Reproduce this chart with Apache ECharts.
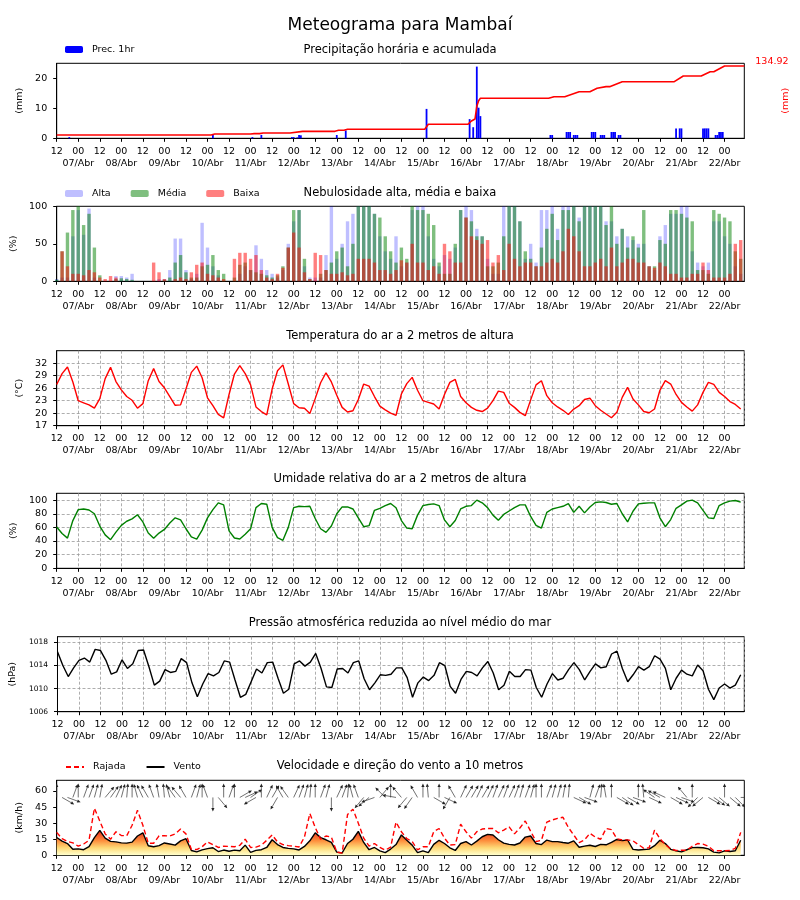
<!DOCTYPE html>
<html><head><meta charset="utf-8">
<script src="https://cdn.jsdelivr.net/npm/echarts@6/dist/echarts.min.js"></script>
<style>html,body{margin:0;padding:0;background:#fff}#c{width:800px;height:900px}</style>
</head><body><div id="c"></div>
<script>
// ---------------- DATA ----------------
// time axis: hours since 06/Abr 12:00 ; series sampled every STEP hours
const STEP = 3;
const X_MAX = 383;
const dayLabels = ['07/Abr','08/Abr','09/Abr','10/Abr','11/Abr','12/Abr','13/Abr','14/Abr','15/Abr','16/Abr','17/Abr','18/Abr','19/Abr','20/Abr','21/Abr','22/Abr'];

// hourly precipitation (only non-zero hours)
const precipHours  = [7,87,109,114,131,132,134,135,136,156,161,206,230,232,234,235,236,275,276,284,285,286,288,289,290,298,299,300,303,304,305,309,310,311,313,314,345,347,348,360,361,362,363,367,368,369,370,371];
const precipValues = [0.4,1.2,0.4,1.1,0.4,0.4,0.3,1.1,1.0,1.1,2.6,9.8,6.4,3.7,23.9,10.2,7.4,1.1,1.1,2.1,2.1,2.1,1.1,1.1,1.1,2.1,2.1,2.1,1.1,1.1,1.1,2.1,2.1,2.1,1.1,1.1,3.3,3.3,3.3,3.3,3.3,3.3,3.3,1.1,1.1,2.1,2.1,2.1];
// accumulated precipitation (right axis)
const accHours  = [0,86,88,108,110,113,115,130,137,155,157,160,162,205,207,229,231,232,233,234,235,236,274,277,283,291,297,301,302,306,308,315,344,349,359,364,366,372,383];
const accValues = [6.2,6.2,8.0,8.0,8.7,8.7,9.9,9.9,13.0,13.0,14.9,14.9,16.8,16.8,26.1,26.1,32.3,32.3,36.0,59.9,70.1,74.7,74.7,77.7,77.7,87.0,87.0,93.3,93.3,96.4,96.4,105.7,105.7,116.3,116.3,124.3,124.3,134.92,134.92];

// cloud cover (%) every 3 h
const cloudHigh = [3,5,5,60,95,62,97,5,0,0,0,7,7,5,10,0,0,0,0,3,3,15,57,57,15,3,10,78,45,20,8,0,0,0,10,20,15,48,30,15,10,5,15,50,80,95,20,5,5,5,35,100,30,50,80,90,100,100,100,90,60,40,30,60,20,25,95,100,100,60,30,20,35,30,45,95,100,95,70,60,30,10,10,100,100,100,80,30,50,25,95,95,100,70,100,100,100,85,100,100,100,100,80,80,60,70,60,55,50,50,20,15,60,75,90,90,100,100,40,25,20,25,80,80,60,50,20,10];
const cloudMid  = [2,40,65,95,100,75,90,45,8,0,0,3,4,3,2,0,0,0,0,0,2,5,25,35,12,5,5,20,22,35,15,10,0,5,22,25,15,12,10,8,5,8,20,45,95,95,30,3,0,10,15,25,40,45,20,50,100,100,100,90,85,60,40,25,45,30,100,95,95,90,75,25,10,10,50,95,85,80,60,60,20,20,25,60,100,100,80,40,30,20,45,70,90,55,95,95,100,80,100,100,100,100,75,100,50,70,45,60,45,95,20,20,55,50,95,95,90,85,80,15,15,10,95,90,85,80,40,30];
const cloudLow  = [0,40,20,10,10,8,15,12,5,3,7,5,0,0,0,0,0,0,25,12,3,0,3,5,3,12,22,25,10,8,5,3,0,30,38,38,30,35,15,5,3,10,18,45,65,45,12,3,38,35,15,10,10,12,8,10,30,30,30,25,15,15,10,15,28,25,50,25,25,15,20,10,50,40,25,25,85,60,55,50,55,25,35,15,50,30,20,25,25,20,20,25,30,25,40,70,60,40,20,20,25,30,20,45,20,25,30,30,25,25,20,18,25,20,10,10,5,5,10,10,25,15,5,5,5,10,50,55];

// 2 m temperature (°C) every 3 h
const temperature = [26.9,29.5,31.1,27.5,23.0,22.5,22.0,21.2, 23.5,28.3,31.0,27.6,25.6,24.0,23.1,21.2, 22.3,27.8,30.7,27.6,26.1,24.0,21.9,22.0, 25.8,29.8,31.3,28.5,23.7,21.8,19.7,18.9, 24.5,29.4,31.4,29.5,26.8,21.5,20.4,19.6, 25.8,30.2,31.6,27.0,22.3,21.3,21.2,19.9, 23.5,27.3,29.7,27.5,24.3,21.4,20.3,20.6, 23.3,27.0,26.5,24.0,21.7,20.8,20.0,19.5, 24.6,27.1,28.6,25.5,23.0,22.6,22.2,21.0, 24.5,27.4,28.1,24.0,22.5,21.4,20.7,20.4, 21.2,23.0,25.3,25.0,22.4,21.4,20.2,19.4, 23.2,26.8,27.8,24.2,22.5,21.5,20.7,19.7, 21.0,21.8,23.3,23.6,21.8,20.7,19.8,18.9, 20.2,23.8,26.2,23.4,22.0,20.4,20.1,21.0, 25.5,27.8,27.0,24.5,22.6,21.5,20.5,22.0, 25.0,27.4,26.9,25.0,24.0,22.8,22.1,21.0];

// 2 m relative humidity (%) every 3 h
const humidity = [60.6,51,44.3,70,86,87,85.5,80, 62,49,42,53,63,69,72.5,78.5, 68,51.7,44,51.7,57,66.5,74,71, 58,46,42.9,56,74,86,96,93, 55,44.5,43,50,58,89,95,94, 60,45,41,60,89,91,90.5,91, 73,58,52.7,62,80,90,90,87, 74,61,62.5,85,88,92,95,88.7, 70,59,58,78,92,93.6,94.5,92, 71,61,70,87,91,92,100,96, 89,78,70.5,79,84,89,93,93, 76,63,59,82,87,89,91,95, 82,91,81.3,90,96.5,97.5,96.5,94, 95,80,68,83.7,94.5,95.5,96,96, 74,61,71.5,88,93,98.5,100,96, 85,74,73,92,96,98.5,99.5,97];

// mean sea level pressure (hPa) every 3 h
const pressure = [1016.4,1014.0,1012.1,1013.6,1014.9,1015.3,1014.6,1016.8, 1016.6,1014.9,1012.5,1012.9,1015.0,1013.5,1014.3,1016.6, 1016.7,1013.8,1010.6,1011.3,1013.3,1012.8,1013.0,1015.2, 1014.5,1011.0,1008.6,1010.8,1012.6,1012.2,1012.8,1014.8, 1014.6,1011.5,1008.5,1009.0,1011.2,1013.4,1012.7,1014.5, 1014.6,1011.8,1009.2,1009.9,1014.3,1014.8,1013.9,1014.6, 1016.1,1013.5,1010.3,1010.2,1013.4,1013.5,1012.7,1014.5, 1014.8,1011.7,1009.8,1011.0,1012.4,1012.3,1012.5,1013.6, 1013.6,1011.9,1008.5,1011.0,1012.0,1011.4,1012.3,1014.5, 1014.0,1010.4,1009.2,1011.6,1013.0,1012.8,1012.2,1013.6, 1014.7,1012.7,1009.8,1010.6,1013.0,1012.1,1012.1,1013.3, 1013.2,1010.2,1008.5,1010.8,1012.6,1011.5,1011.8,1013.3, 1014.5,1013.3,1011.5,1013.0,1014.3,1013.6,1013.8,1016.0, 1016.5,1013.5,1011.2,1012.4,1013.8,1013.2,1013.8,1015.7, 1015.1,1013.5,1009.8,1011.8,1013.2,1012.5,1012.2,1014.1, 1013.1,1009.9,1008.1,1010.1,1010.8,1010.1,1010.6,1012.4];

// 10 m wind speed and gust (km/h) every 3 h
const windSpeed = [16.6,13.3,11.0,5.6,6.0,5.2,8.0,16.5, 23.2,16,13,12.5,11.6,11.4,12.3,18, 21,8.9,8.0,9.0,11.5,10.5,9.5,13.5, 15.5,4.5,3.2,5.0,6.2,7.0,3.5,4.9, 3.8,4.8,4.2,9.5,2.8,4.6,5.2,7.3, 14.5,10,7.3,6.5,6.0,5.0,8.3,13.5, 21,16.5,14.5,12,3,2.2,11,15, 22.3,12,5.2,7.3,4.2,2.5,5.8,10, 19,14,9.5,2.5,4.2,2.5,10.2,14, 11,7,4.5,11,12.8,9.6,13.2,17.3, 19.5,19.0,14.5,11.4,10.2,9.6,11.5,17, 18,11,10,14.2,12.8,12.8,12.0,11.3, 13.5,7.5,8.6,9.4,8.2,10.2,9.8,12, 14.8,13.7,14.3,5.5,5.0,5.4,5.8,9, 14,11,5.6,4.2,3.2,5.2,7.2,7.3, 7.0,6.0,3.0,2.3,4.2,3.5,4.2,14];
const windGust = [21.4,15.5,13,11.6,8.5,10.5,14,44, 32,20,15,22,18.5,18.2,28,42, 28,11.2,11.2,18.2,18.2,18.0,20,24.5, 20,5.5,5.4,8.0,12.5,10,7.3,8.5, 8.3,8.0,9.3,15,7.3,7.6,9.5,14, 19,12.5,10,9,8.5,7.8,17,39, 26,15,18,17,3.0,2.2,38,43, 30,16,8.6,11,7.3,4.8,7.6,31, 22,15.5,13,5,8,8,22,25, 16,9.6,10,29,22,16,22,24.5, 25,25,21,23.5,26.5,20,25.5,32, 22.5,12.8,14,31,33,34.5,35.5,26, 19,11.8,14.4,20.5,17,15,25,24, 15.5,14.4,14.4,13.5,10,6.6,7,23.5, 15.5,10,6.0,4.5,4.7,4.8,8.5,11, 10.4,8.4,4.3,4.2,4.2,4.5,6.5,21.4];
// wind direction (degrees, meteorological "from") every 3 h
const windDir = [180,300,290,200,180,200,200,195, 190,220,215,205,195,185,180,165, 155,150,160,170,175,165,145,140, 150,200,195,180,160,0,320,180, 200,180,240,245,235,60,180,205, 210,30,150,145,205,200,195,185, 180,200,195,0,205,200,185,165, 160,40,50,70,220,135,180,100, 140,40,35,150,180,175,300,180, 295,30,150,205,210,210,205,210, 205,200,205,200,205,200,195,200, 195,180,180,200,195,195,190,185, 295,300,290,195,200,185,170,180, 300,305,300,290,180,175,295,125, 120,115,300,295,290,140,180,45, 50,300,305,310,180,310,315,270];

// ---------------- CHART ----------------
const FONT = 'DejaVu Sans';
const tops = [63.3, 206.3, 350.7, 493.3, 636.7, 780.3];
const GL = 56.7, GW = 687.6, GH = 75;
const withGrid = [false, false, true, true, true, false];
const series3h = arr => arr.map((v, i) => [i * STEP, v]);
const midnights = dayLabels.map((d, i) => 12 + 24 * i);

function hourFmt(v) {
  const r = ((v % 24) + 24) % 24;
  if (r === 0) return '12';
  if (r === 12) return '00';
  return '';
}
const dash = {color: '#999', type: [3, 2], width: 0.8};
const tickFont = {fontSize: 9.5, color: '#000', fontFamily: FONT};

// main time axes (hour labels, ticks, grid lines)
const xAxes = tops.map((t, i) => ({
  type: 'value', gridIndex: i, min: 0, max: X_MAX, interval: 12,
  axisLine: {show: true, onZero: false, lineStyle: {color: '#000', width: 1}},
  axisTick: {show: true, length: 3.5, lineStyle: {color: '#000'}},
  axisLabel: Object.assign({formatter: hourFmt, margin: 8, showMinLabel: true, showMaxLabel: false}, tickFont),
  splitLine: {show: withGrid[i], lineStyle: dash}
}));
// second row: day labels under the 00 ticks
tops.forEach((t, i) => xAxes.push({
  type: 'value', gridIndex: i, min: 0, max: X_MAX, position: 'bottom',
  axisLine: {show: false}, axisTick: {show: false}, splitLine: {show: false},
  axisLabel: Object.assign({customValues: midnights, formatter: v => dayLabels[(v - 12) / 24], margin: 20,
                            showMinLabel: true, showMaxLabel: true}, tickFont)
}));

function yAx(grid, min, max, ticks, name, opts) {
  opts = opts || {};
  return {
    type: 'value', gridIndex: grid, min: min, max: max,
    name: name, nameLocation: 'middle', nameGap: opts.nameGap || 27,
    nameTextStyle: {fontSize: 9.5, color: '#000', fontFamily: FONT},
    axisLine: {show: true, lineStyle: {color: '#000'}},
    axisTick: {show: true, length: 3.5, customValues: ticks, lineStyle: {color: '#000'}},
    axisLabel: Object.assign({customValues: ticks, formatter: v => String(v), margin: 9.5}, tickFont, {fontSize: opts.fs || 9.5}),
    splitLine: {show: !!opts.grid, lineStyle: dash}
  };
}

const yAxes = [
  yAx(0, 0, 25, [0, 10, 20], '(mm)', {nameGap: 28}),
  {type: 'value', gridIndex: 0, position: 'right', min: 0, max: 140,
   name: '(mm)', nameLocation: 'middle', nameGap: 36,
   nameTextStyle: {fontSize: 9.5, color: '#ff0000', fontFamily: FONT},
   axisLine: {show: false}, axisTick: {show: false}, axisLabel: {show: false}, splitLine: {show: false}},
  yAx(1, 0, 100, [0, 50, 100], '(%)', {nameGap: 34}),
  yAx(2, 17, 35, [17, 20, 23, 26, 29, 32], '(°C)', {nameGap: 28, grid: true}),
  yAx(3, 0, 110, [0, 20, 40, 60, 80, 100], '(%)', {nameGap: 34, grid: true}),
  yAx(4, 1006, 1019, [1006, 1010, 1014, 1018], '(hPa)', {nameGap: 37, grid: true, fs: 7.5}),
  yAx(5, 0, 70, [0, 15, 30, 45, 60], '(km/h)', {nameGap: 28})
];

const windFill = new echarts.graphic.LinearGradient(0, 855, 0, 826, [
  {offset: 0, color: '#ffffcc'}, {offset: 0.25, color: '#fed976'},
  {offset: 0.5, color: '#fd8d3c'}, {offset: 0.78, color: '#f03b20'}, {offset: 1, color: '#bd0026'}
], true);

const ARROW_BASE = 54;
const series = [
  {name: 'Prec. 1hr', type: 'bar', xAxisIndex: 0, yAxisIndex: 0, barWidth: 1.8,
   itemStyle: {color: '#0000ff'}, data: precipHours.map((h, i) => [h, precipValues[i]])},
  {name: 'Acumulada', type: 'line', xAxisIndex: 0, yAxisIndex: 1, symbol: 'none',
   lineStyle: {color: '#ff0000', width: 1.6}, itemStyle: {color: '#ff0000'},
   data: accHours.map((h, i) => [h, accValues[i]]),
   endLabel: {show: true, formatter: () => accValues[accValues.length - 1].toFixed(2), color: '#ff0000', fontSize: 9.5, fontFamily: FONT, distance: 11, offset: [0, -4]}},
  {name: 'Alta', type: 'bar', xAxisIndex: 1, yAxisIndex: 2, barWidth: 3.4, barGap: '-100%',
   itemStyle: {color: 'rgba(0,0,255,0.25)'}, data: series3h(cloudHigh)},
  {name: 'Média', type: 'bar', xAxisIndex: 1, yAxisIndex: 2, barWidth: 3.4, barGap: '-100%',
   itemStyle: {color: 'rgba(0,128,0,0.5)'}, data: series3h(cloudMid)},
  {name: 'Baixa', type: 'bar', xAxisIndex: 1, yAxisIndex: 2, barWidth: 3.4, barGap: '-100%',
   itemStyle: {color: 'rgba(255,0,0,0.5)'}, data: series3h(cloudLow)},
  {name: 'Temperatura', type: 'line', xAxisIndex: 2, yAxisIndex: 3, symbol: 'none',
   lineStyle: {color: '#ff0000', width: 1.4}, data: series3h(temperature)},
  {name: 'Umidade', type: 'line', xAxisIndex: 3, yAxisIndex: 4, symbol: 'none',
   lineStyle: {color: '#008000', width: 1.4}, data: series3h(humidity)},
  {name: 'Pressão', type: 'line', xAxisIndex: 4, yAxisIndex: 5, symbol: 'none',
   lineStyle: {color: '#000', width: 1.4}, data: series3h(pressure)},
  {name: 'Vento', type: 'line', xAxisIndex: 5, yAxisIndex: 6, symbol: 'none', showSymbol: false, z: 3,
   lineStyle: {color: '#000', width: 1.4}, itemStyle: {color: '#000'},
   areaStyle: {color: windFill, opacity: 1}, data: series3h(windSpeed)},
  {name: 'Rajada', type: 'line', xAxisIndex: 5, yAxisIndex: 6, symbol: 'none', showSymbol: false, z: 4,
   lineStyle: {color: '#ff0000', width: 1.4, type: [5, 3]}, itemStyle: {color: '#ff0000'},
   data: series3h(windGust)},
  {name: 'Direção', type: 'custom', xAxisIndex: 5, yAxisIndex: 6, z: 5, clip: true,
   data: series3h(windDir),
   renderItem: function (params, api) {
     const p = api.coord([api.value(0), ARROW_BASE]);
     const a = (api.value(1) + 180) * Math.PI / 180;
     const ux = Math.sin(a), uy = -Math.cos(a);
     const L = 14, hl = 3.5, hw = 1.6;
     const ex = p[0] + ux * L, ey = p[1] + uy * L;
     const bx = ex - ux * hl, by = ey - uy * hl;
     const px = -uy, py = ux;
     return {type: 'group', children: [
       {type: 'line', shape: {x1: p[0], y1: p[1], x2: bx, y2: by}, style: {stroke: '#333', lineWidth: 0.7}},
       {type: 'polygon', shape: {points: [[ex, ey], [bx + px * hw, by + py * hw], [bx - px * hw, by - py * hw]]}, style: {fill: '#222'}}
     ]};
   }}
];

const subTitles = ['Precipitação horária e acumulada', 'Nebulosidade alta, média e baixa',
  'Temperatura do ar a 2 metros de altura', 'Umidade relativa do ar a 2 metros de altura',
  'Pressão atmosférica reduzida ao nível médio do mar', 'Velocidade e direção do vento a 10 metros'];
const titleTops = [44.5, 187.5, 330.5, 473.5, 617.5, 760.5];

const legendBase = {orient: 'horizontal', left: 65, padding: 0, itemWidth: 18, itemHeight: 7, itemGap: 20,
  textStyle: {fontSize: 9.5, color: '#000', fontFamily: FONT, padding: [0, 0, 0, 4]}, selectedMode: false};

const option = {
  animation: false,
  backgroundColor: '#fff',
  title: [{text: 'Meteograma para Mambaí', left: 'center', top: 17, padding: 0,
           textStyle: {fontSize: 17, fontWeight: 'normal', color: '#000', fontFamily: FONT}}]
    .concat(subTitles.map((t, i) => ({text: t, left: 'center', top: titleTops[i], padding: 0,
           textStyle: {fontSize: 11.5, fontWeight: 'normal', color: '#000', fontFamily: FONT}}))),
  legend: [
    Object.assign({}, legendBase, {top: 44.5, data: ['Prec. 1hr']}),
    Object.assign({}, legendBase, {top: 188.5, data: ['Alta', 'Média', 'Baixa']}),
    Object.assign({}, legendBase, {top: 762, itemHeight: 10, itemStyle: {opacity: 0}, data: ['Rajada', 'Vento']})
  ],
  grid: tops.map(t => ({left: GL, width: GW, top: t, height: GH, show: true, borderColor: '#000', borderWidth: 1, backgroundColor: 'rgba(0,0,0,0)'})),
  xAxis: xAxes,
  yAxis: yAxes,
  series: series
};

const chart = echarts.init(document.getElementById('c'), null, {renderer: 'canvas'});
chart.setOption(option);
</script>
</body></html>
